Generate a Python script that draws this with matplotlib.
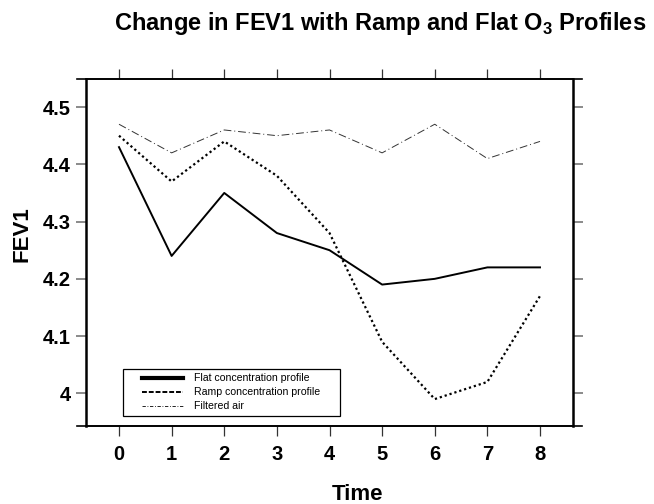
import matplotlib
matplotlib.use("Agg")
import matplotlib.pyplot as plt
from matplotlib.lines import Line2D
from matplotlib.patches import Rectangle

plt.rcParams['font.family'] = ['Liberation Sans', 'DejaVu Sans']
plt.rcParams['mathtext.fontset'] = 'custom'
plt.rcParams['mathtext.rm'] = 'Liberation Sans'
plt.rcParams['mathtext.bf'] = 'Liberation Sans:bold'

time = [0, 1, 2, 3, 4, 5, 6, 7, 8]
flat = [4.43, 4.24, 4.35, 4.28, 4.25, 4.19, 4.20, 4.22, 4.22]
ramp = [4.45, 4.37, 4.44, 4.38, 4.28, 4.09, 3.99, 4.02, 4.17]
filtered = [4.47, 4.42, 4.46, 4.45, 4.46, 4.42, 4.47, 4.41, 4.44]
labels = ["Flat concentration profile", "Ramp concentration profile", "Filtered air"]
yticks = [4.0, 4.1, 4.2, 4.3, 4.4, 4.5]
yticklabels = ["4", "4.1", "4.2", "4.3", "4.4", "4.5"]

fig = plt.figure(figsize=(6.54, 5.04), dpi=100)
ax = fig.add_axes([86/654, 1-426/504, 487/654, 347/504])

ax.plot(time, flat, color='black', lw=1.4, ls='-')
ax.plot(time, ramp, color='black', lw=1.6, ls=(0, (1.0, 1.3)))
ax.plot(time, filtered, color='#333333', lw=0.7, ls=(0, (8, 3, 1, 3)))

ax.set_xlim(-0.627, 8.627)
ax.set_ylim(3.943, 4.549)
ax.set_xticks(time)
ax.set_xticklabels([str(t) for t in time], fontsize=14.5, fontweight='bold')
ax.set_yticks(yticks)
ax.set_yticklabels(yticklabels, fontsize=14.5, fontweight='bold')

ax.tick_params(axis='x', direction='out', length=7, width=0.9, color='#333333',
               top=True, bottom=True, labeltop=False, pad=7)
ax.tick_params(axis='y', direction='out', length=7, width=1.2, color='#777777',
               left=True, right=True, labelright=False, pad=4)

for s in ['left', 'right']:
    ax.spines[s].set_linewidth(1.8)
for s in ['top', 'bottom']:
    ax.spines[s].set_linewidth(1.2)

# extend horizontal frame lines beyond the vertical ones
ext_l = -9/487
ext_r = 1 + 9/487
for yv in (0, 1):
    ax.add_line(Line2D([ext_l, ext_r], [yv, yv], transform=ax.transAxes,
                       color='black', lw=1.2, clip_on=False))

fig.text(358/654, 1-500/504, "Time", ha='center', va='baseline',
         fontsize=16, fontweight='bold')
fig.text(22/654, 1-234/504, "FEV1", ha='center', va='center', rotation=90,
         fontsize=16, fontweight='bold')

fig.text(380/654, 1-30/504, r"Change in FEV1 with Ramp and Flat O$_\mathbf{3}$ Profiles",
         ha='center', va='baseline', fontsize=17, fontweight='bold')

# legend (drawn in axes coordinates)
T = ax.transAxes
ax.add_patch(Rectangle((0.076, 0.0288), 0.5216-0.076, 0.164-0.0288, transform=T,
                       facecolor='white', edgecolor='black', lw=0.9, zorder=5))
styles = [
    dict(color='black', lw=3.0, ls='-'),
    dict(color='black', lw=1.4, ls=(0, (2.5, 1.0))),
    dict(color='black', lw=0.6, ls=(0, (4, 2, 1, 2))),
]
rows = [0.1383, 0.0980, 0.0576]
for lab, st, yy in zip(labels, styles, rows):
    ax.add_line(Line2D([0.115, 0.199], [yy, yy], transform=T, zorder=6, **st))
    ax.text(0.2218, yy, lab, transform=T, fontsize=7.6, va='center', ha='left', zorder=6)

fig.savefig("out.png", dpi=100)
